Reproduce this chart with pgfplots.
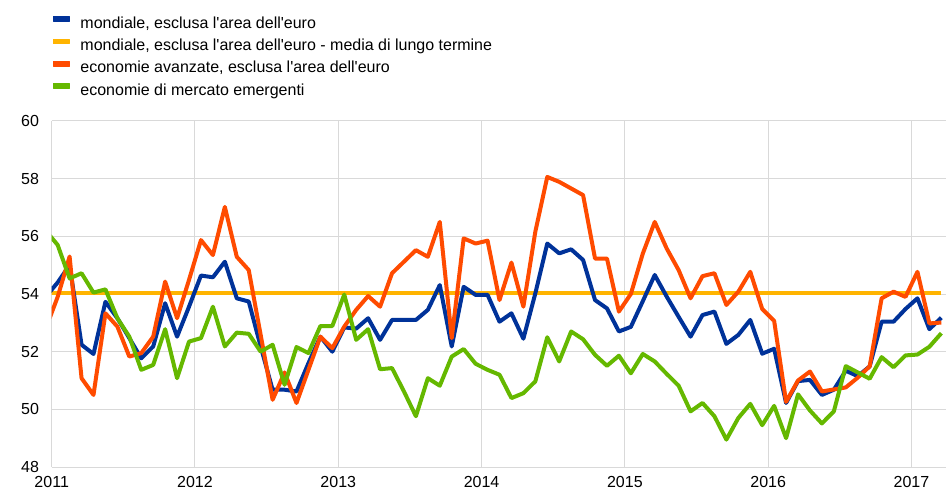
\documentclass[border=0pt]{standalone}
\usepackage{fontspec}
\setmainfont{Liberation Sans}
\usepackage{pgfplots}
\pgfplotsset{compat=1.18}
\usepackage{pgfplotstable}
\definecolor{ecbblue}{RGB}{0,50,153}
\definecolor{ecbyellow}{RGB}{255,180,0}
\definecolor{ecborange}{RGB}{255,75,0}
\definecolor{ecbgreen}{RGB}{101,184,0}
\definecolor{gridgray}{RGB}{217,217,217}

\pgfplotstableread{
k blue orange green
-1 53.90 52.80 56.20
0 54.40 53.90 55.70
1 55.00 55.30 54.54
2 52.24 51.08 54.72
3 51.92 50.50 54.05
4 53.73 53.33 54.16
5 53.16 52.87 53.16
6 52.47 51.83 52.52
7 51.77 51.95 51.37
8 52.18 52.52 51.54
9 53.68 54.43 52.78
10 52.52 53.16 51.08
11 53.56 54.49 52.35
12 54.64 55.87 52.47
13 54.58 55.35 53.56
14 55.12 57.02 52.18
15 53.85 55.29 52.66
16 53.74 54.83 52.62
17 52.18 52.58 52.00
18 50.68 50.33 52.24
19 50.68 51.28 50.85
20 50.62 50.22 52.16
21 51.60 51.37 51.95
22 52.52 52.52 52.89
23 52.00 52.12 52.89
24 52.84 52.87 53.98
25 52.80 53.45 52.41
26 53.16 53.93 52.78
27 52.41 53.56 51.39
28 53.10 54.72 51.43
29 53.10 55.12 50.62
30 53.10 55.52 49.76
31 53.45 55.29 51.08
32 54.31 56.50 50.82
33 52.18 52.47 51.83
34 54.25 55.93 52.09
35 53.97 55.75 51.58
36 53.97 55.85 51.37
37 53.04 53.79 51.20
38 53.33 55.09 50.39
39 52.45 53.56 50.56
40 54.02 56.16 50.97
41 55.75 58.06 52.50
42 55.41 57.89 51.66
43 55.55 57.66 52.70
44 55.18 57.43 52.43
45 53.79 55.23 51.89
46 53.50 55.23 51.51
47 52.70 53.39 51.86
48 52.86 54.00 51.25
49 53.75 55.40 51.92
50 54.66 56.50 51.66
51 53.91 55.58 51.23
52 53.21 54.83 50.82
53 52.52 53.85 49.93
54 53.27 54.62 50.22
55 53.39 54.72 49.76
56 52.27 53.62 48.95
57 52.58 54.08 49.70
58 53.10 54.77 50.19
59 51.93 53.48 49.45
60 52.10 53.07 50.12
61 50.22 50.26 49.00
62 50.98 51.00 50.52
63 51.02 51.31 49.96
64 50.50 50.62 49.51
65 50.68 50.69 49.93
66 51.34 50.76 51.50
67 51.15 51.10 51.28
68 51.49 51.49 51.06
69 53.04 53.85 51.81
70 53.04 54.08 51.46
71 53.48 53.90 51.87
72 53.85 54.77 51.90
73 52.78 52.98 52.17
74 53.18 53.01 52.64
}\pmidata

\begin{document}
\begin{tikzpicture}
\useasboundingbox (0,0) rectangle (946pt,491pt);
\begin{axis}[
  at={(51.7pt,24pt)}, anchor=south west,
  scale only axis, width=895.6pt, height=346pt,
  xmin=0, xmax=75, ymin=48, ymax=60,
  xtick={0,12,...,72},
  xticklabels={2011,2012,2013,2014,2015,2016,2017},
  ytick={48,50,...,60},
  grid=major,
  major grid style={draw=gridgray, line width=1pt},
  axis line style={draw=none},
  major tick length=0pt,
  tick label style={font=\fontsize{16}{19}\selectfont},
  /pgf/number format/assume math mode=true,
  xticklabel style={anchor=base, yshift=-20pt},
  yticklabel style={anchor=east, inner sep=0pt, xshift=-12.5pt},
  legend style={at={(0.0015,1.3026)}, anchor=north west, draw=none, fill=none,
    inner sep=0pt, outer sep=0pt, row sep=6pt, column sep=11pt,
    font=\fontsize{16}{19}\selectfont,
    nodes={inner sep=0pt, text height=12pt, text depth=4pt}},
  legend cell align=left,
  legend image code/.code={\fill (0pt,3.2pt) rectangle (16pt,8pt);},
  line join=round,
]
\addlegendimage{ecbblue}
\addlegendentry{mondiale, esclusa l\textquotesingle area dell\textquotesingle euro}
\addlegendimage{ecbyellow}
\addlegendentry{mondiale, esclusa l\textquotesingle area dell\textquotesingle euro - media di lungo termine}
\addlegendimage{ecborange}
\addlegendentry{economie avanzate, esclusa l\textquotesingle area dell\textquotesingle euro}
\addlegendimage{ecbgreen}
\addlegendentry{economie di mercato emergenti}

\addplot[ecbyellow, line width=4pt, forget plot] coordinates {(-0.5,54.05) (74.5,54.05)};
\addplot[ecbblue, line width=4pt, forget plot] table[x expr=\thisrow{k}+0.5, y=blue] {\pmidata};
\addplot[ecborange, line width=4pt, forget plot] table[x expr=\thisrow{k}+0.5, y=orange] {\pmidata};
\addplot[ecbgreen, line width=4pt, forget plot] table[x expr=\thisrow{k}+0.5, y=green] {\pmidata};
\end{axis}
\end{tikzpicture}
\end{document}
